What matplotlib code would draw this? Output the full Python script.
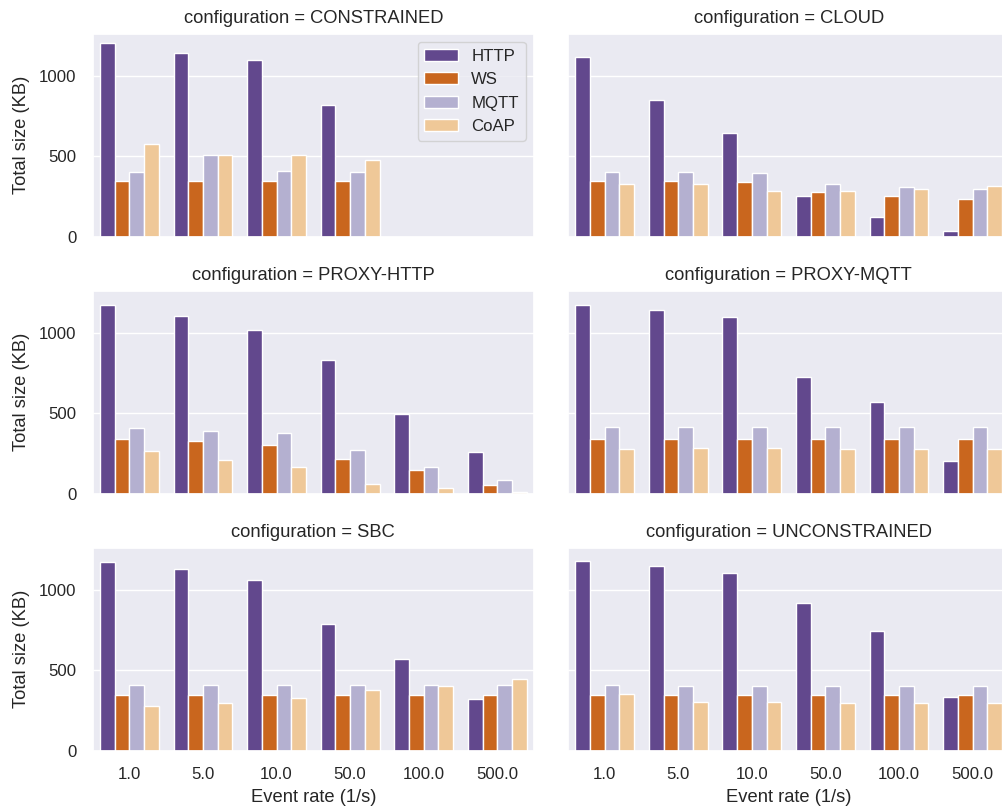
import numpy as np
import matplotlib
matplotlib.use("Agg")
import matplotlib.pyplot as plt
import seaborn as sns

sns.set_theme(style="darkgrid", font_scale=1.1)
plt.rcParams["font.family"] = ["Liberation Sans", "DejaVu Sans"]

event_rates = ["1.0", "5.0", "10.0", "50.0", "100.0", "500.0"]
protocols = ["HTTP", "WS", "MQTT", "CoAP"]
configurations = ["CONSTRAINED", "CLOUD", "PROXY-HTTP", "PROXY-MQTT", "SBC", "UNCONSTRAINED"]

nan = np.nan
# Total size (KB) per protocol, one value per event rate
constrained_http = [1204, 1142, 1098, 823, nan, nan]
constrained_ws = [348, 348, 348, 348, nan, nan]
constrained_mqtt = [406, 510, 408, 400, nan, nan]
constrained_coap = [575, 512, 512, 477, nan, nan]

cloud_http = [1121, 852, 648, 256, 121, 33]
cloud_ws = [346, 344, 340, 279, 254, 237]
cloud_mqtt = [404, 400, 394, 331, 312, 296]
cloud_coap = [331, 329, 283, 287, 300, 315]

proxy_http_http = [1178, 1106, 1019, 832, 498, 261]
proxy_http_ws = [338, 326, 305, 214, 147, 56]
proxy_http_mqtt = [407, 388, 380, 270, 164, 85]
proxy_http_coap = [268, 210, 164, 60, 35, 10]

proxy_mqtt_http = [1177, 1143, 1098, 730, 569, 203]
proxy_mqtt_ws = [342, 342, 342, 342, 342, 342]
proxy_mqtt_mqtt = [417, 415, 415, 413, 413, 413]
proxy_mqtt_coap = [276, 286, 286, 276, 276, 276]

sbc_http = [1175, 1133, 1060, 787, 573, 323]
sbc_ws = [346, 346, 346, 346, 346, 346]
sbc_mqtt = [408, 406, 406, 406, 406, 406]
sbc_coap = [279, 296, 325, 375, 400, 446]

unconstrained_http = [1183, 1150, 1104, 917, 746, 333]
unconstrained_ws = [346, 346, 346, 346, 346, 346]
unconstrained_mqtt = [406, 404, 404, 404, 404, 404]
unconstrained_coap = [350, 304, 300, 296, 298, 298]

data = {
    "CONSTRAINED": [constrained_http, constrained_ws, constrained_mqtt, constrained_coap],
    "CLOUD": [cloud_http, cloud_ws, cloud_mqtt, cloud_coap],
    "PROXY-HTTP": [proxy_http_http, proxy_http_ws, proxy_http_mqtt, proxy_http_coap],
    "PROXY-MQTT": [proxy_mqtt_http, proxy_mqtt_ws, proxy_mqtt_mqtt, proxy_mqtt_coap],
    "SBC": [sbc_http, sbc_ws, sbc_mqtt, sbc_coap],
    "UNCONSTRAINED": [unconstrained_http, unconstrained_ws, unconstrained_mqtt, unconstrained_coap],
}

colors = ["#62488d", "#c9661e", "#b4b0d0", "#efc898"]

fig = plt.figure(figsize=(10.03, 8.11), dpi=100)

col_x = [0.0924, 0.5663]
row_y = [0.7081, 0.3912, 0.0744]
w, h = 0.440, 0.2505

x = np.arange(len(event_rates))
bar_w = 0.8 / len(protocols)
axes = []
for i, conf in enumerate(configurations):
    r, c = divmod(i, 2)
    ax = fig.add_axes([col_x[c], row_y[r], w, h])
    axes.append(ax)
    for j, (proto, vals) in enumerate(zip(protocols, data[conf])):
        offs = -0.4 + bar_w * (j + 0.5)
        ax.bar(x + offs, vals, width=bar_w, color=colors[j], edgecolor="white",
               linewidth=1.0, label=proto)
    ax.set_xlim(-0.5, len(event_rates) - 0.5)
    ax.set_ylim(0, 1265)
    ax.set_yticks([0, 500, 1000])
    ax.set_xticks(x)
    ax.grid(axis="x", visible=False)
    ax.set_title(f"configuration = {conf}", fontsize=13.2, pad=7.5)
    ax.tick_params(labelsize=12.1, pad=5.5)
    if c == 0:
        ax.set_ylabel("Total size (KB)", fontsize=13.2, labelpad=6.5)
    else:
        ax.set_yticklabels([])
    if r == 2:
        ax.set_xticklabels(event_rates)
        ax.set_xlabel("Event rate (1/s)", fontsize=13.2, labelpad=5.5)
    else:
        ax.set_xticklabels([])

axes[0].legend(loc="upper right", fontsize=12.1)

fig.savefig("out.png", dpi=100)
